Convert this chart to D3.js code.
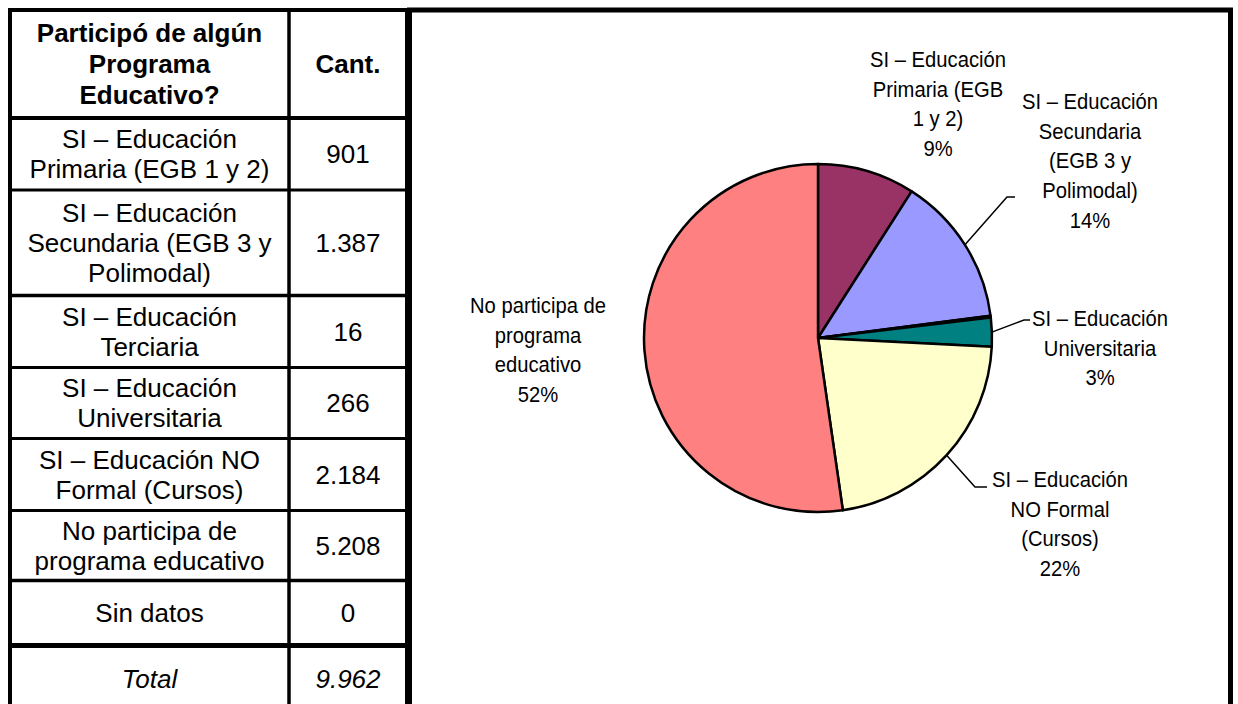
<!DOCTYPE html>
<html>
<head>
<meta charset="utf-8">
<script src="https://cdn.jsdelivr.net/npm/d3@7"></script>
<style>
  html, body { margin: 0; padding: 0; background: #fff; }
  svg { display: block; }
</style>
</head>
<body>
<script>
// ---------- DATA ----------
const headerLines = ["Participó de algún", "Programa", "Educativo?"];
const headerValue = "Cant.";
const tableCategories = [
  ["SI – Educación", "Primaria (EGB 1 y 2)"],
  ["SI – Educación", "Secundaria (EGB 3 y", "Polimodal)"],
  ["SI – Educación", "Terciaria"],
  ["SI – Educación", "Universitaria"],
  ["SI – Educación NO", "Formal (Cursos)"],
  ["No participa de", "programa educativo"],
  ["Sin datos"]
];
const values = [901, 1387, 16, 266, 2184, 5208, 0];
const totalLabel = "Total";
const pieLabels = [
  ["SI – Educación", "Primaria (EGB", "1 y 2)"],
  ["SI – Educación", "Secundaria", "(EGB 3 y", "Polimodal)"],
  null,
  ["SI – Educación", "Universitaria"],
  ["SI – Educación", "NO Formal", "(Cursos)"],
  ["No participa de", "programa", "educativo"],
  null
];
const colors = ["#993366", "#9999FF", "#CCFFFF", "#008080", "#FFFFCC", "#FF8080", "#FFFFFF"];

// ---------- LAYOUT ----------
const W = 1238, H = 704;
const svg = d3.select("body").append("svg").attr("width", W).attr("height", H);
svg.append("rect").attr("width", W).attr("height", H).attr("fill", "#fff");

const fmt = d3.formatLocale({decimal: ",", thousands: ".", grouping: [3], currency: ["$", ""]}).format(",d");
const total = d3.sum(values);

// Table geometry
const colLines = [10, 289, 407];
const rowLines = [10, 118, 190, 295.5, 367.5, 438.5, 510.5, 580.5, 645.5, 712];
const rowStroke = [4, 4, 3, 3.5, 3, 3, 3, 3.5, 5, 4];
const colStroke = [4, 3.5, 4];
const tfont = "'Liberation Sans', Arial, sans-serif";
const tsize = 26, tlh = 30;

const table = svg.append("g");
const rows = [{lines: headerLines, val: headerValue, bold: true, lh: 31}]
  .concat(tableCategories.map((c, i) => ({lines: c, val: fmt(values[i]), lh: tlh})))
  .concat([{lines: [totalLabel], val: fmt(total), italic: true, lh: tlh}]);

const c1 = (colLines[0] + colLines[1]) / 2, c2 = (colLines[1] + colLines[2]) / 2;
rows.forEach((r, i) => {
  const yc = (rowLines[i] + rowLines[i + 1]) / 2;
  const t = table.append("text")
    .attr("font-family", tfont).attr("font-size", tsize)
    .attr("font-weight", r.bold ? "bold" : "normal")
    .attr("font-style", r.italic ? "italic" : "normal")
    .attr("text-anchor", "middle").attr("fill", "#000");
  r.lines.forEach((l, k) => {
    t.append("tspan").attr("x", c1)
      .attr("y", yc + (k - (r.lines.length - 1) / 2) * r.lh)
      .attr("dy", "0.36em").text(l);
  });
  table.append("text")
    .attr("font-family", tfont).attr("font-size", tsize)
    .attr("font-weight", r.bold ? "bold" : "normal")
    .attr("font-style", r.italic ? "italic" : "normal")
    .attr("text-anchor", "middle").attr("x", c2).attr("y", yc).attr("dy", "0.36em")
    .text(r.val);
});
rowLines.forEach((y, i) => {
  table.append("line").attr("x1", colLines[0] - 2).attr("x2", colLines[2] + 2)
    .attr("y1", y).attr("y2", y).attr("stroke", "#000").attr("stroke-width", rowStroke[i]);
});
colLines.forEach((x, i) => {
  table.append("line").attr("x1", x).attr("x2", x)
    .attr("y1", rowLines[0] - 2).attr("y2", H + 20).attr("stroke", "#000").attr("stroke-width", colStroke[i]);
});

// Chart box
svg.append("rect").attr("x", 409.5).attr("y", 10).attr("width", 1230.5 - 409.5).attr("height", 720)
  .attr("fill", "none").attr("stroke", "#000").attr("stroke-width", 5);

// Pie
const cx = 818, cy = 338, R = 174;
const pieData = values.map((v, i) => ({v, i}));
const pie = d3.pie().sort(null).value(d => d.v);
const arcs = pie(pieData).filter(a => a.data.v > 0);
const arc = d3.arc().innerRadius(0).outerRadius(R);
const pg = svg.append("g").attr("transform", `translate(${cx},${cy})`);
pg.selectAll("path").data(arcs).join("path")
  .attr("d", arc)
  .attr("fill", d => colors[d.data.i])
  .attr("stroke", "#000").attr("stroke-width", 2.5).attr("stroke-linejoin", "round");

// Labels (layout: first-line centre position, leader elbow)
const labelLayout = {
  0: {x: 938, y: 59},
  1: {x: 1090, y: 101, elbow: [1007, 197], end: [1015, 197]},
  3: {x: 1100, y: 318, elbow: [1024, 320], end: [1030, 320]},
  4: {x: 1060, y: 479, elbow: [975, 487], end: [987, 487]},
  5: {x: 538, y: 305}
};
const lfont = "'Liberation Sans', Arial, sans-serif";
const lsize = 22, llh = 29.7, sx = 0.92;
arcs.forEach(a => {
  const i = a.data.i;
  const lay = labelLayout[i];
  if (!lay || !pieLabels[i]) return;
  const lines = pieLabels[i].concat([Math.round(a.data.v / total * 100) + "%"]);
  const g = svg.append("g").attr("transform", `translate(${lay.x},${lay.y}) scale(${sx},1)`);
  const t = g.append("text").attr("font-family", lfont).attr("font-size", lsize)
    .attr("text-anchor", "middle").attr("fill", "#000");
  lines.forEach((l, k) => {
    t.append("tspan").attr("x", 0).attr("y", k * llh).attr("dy", "0.36em").text(l);
  });
  if (lay.elbow) {
    const mid = (a.startAngle + a.endAngle) / 2;
    const p0 = [cx + R * Math.sin(mid), cy - R * Math.cos(mid)];
    svg.append("polyline")
      .attr("points", [p0, lay.elbow, lay.end].map(p => p.join(",")).join(" "))
      .attr("fill", "none").attr("stroke", "#000").attr("stroke-width", 1.5);
  }
});
</script>
</body>
</html>
